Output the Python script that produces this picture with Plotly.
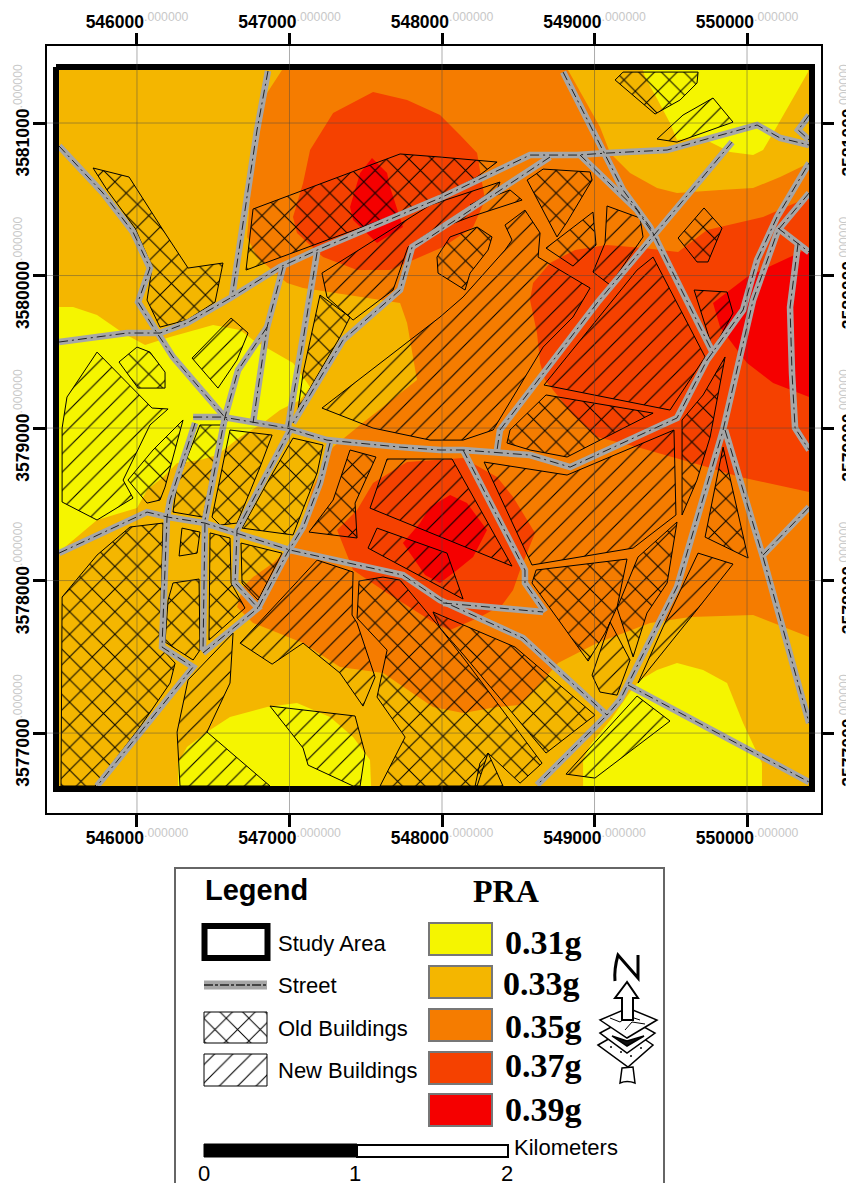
import plotly.graph_objects as go

W, H = 846, 1183
E0, N0 = 545000, 3576000   # all digitised vertices below are metres east / north of this origin

X_TICKS = [546000, 547000, 548000, 549000, 550000]
Y_TICKS = [3577000, 3578000, 3579000, 3580000, 3581000]
X_RANGE = [545410, 550485]
Y_RANGE = [3576476, 3581505]

STUDY_AREA = [(469,5367),(5426,5367),(5426,633),(469,633),(469,5367)]
STUDY_INNER = [(489,5348),(5407,5348),(5407,653),(489,653)]

# ---- PRA contour bands
YELLOW_WEST = [(489,3793),(581,3793),(738,3741),(909,3623),(1053,3544),(1217,3597),(1499,3675),(1676,3643),(1761,3577),(2023,3426),(2135,3269),(2069,3184),(1938,3118),(1826,3033),(1676,2941),(1525,2823),(1413,2790),(1263,2771),(1171,2679),(1066,2594),(1000,2475),(738,2397),(489,2187)]
YELLOW_SOUTH = [(1269,653),(1269,803),(1328,908),(1459,1007),(1610,1105),(1853,1171),(2049,1197),(2266,1105),(2417,974),(2528,823),(2535,653)]
YELLOW_SE = [(3925,653),(3925,823),(3971,921),(4115,1099),(4233,1269),(4299,1348),(4410,1413),(4541,1459),(4712,1413),(4869,1328),(4974,1066),(5098,803),(5098,653)]
ORANGE = [(1951,5348),(1853,5197),(1774,4954),(1722,4253),(1787,4121),(1984,3951),(2089,3918),(2725,3820),(2771,3689),(2836,3315),(2463,3020),(2286,2875),(2154,2613),(2049,2266),(1892,2115),(1761,2023),(1695,1958),(1656,1826),(1761,1722),(2089,1590),(2331,1433),(2613,1394),(2941,1171),(3138,1131),(3361,1171),(3512,1184),(3623,1302),(3761,1459),(4017,1590),(4364,1722),(4626,1761),(5040,1774),(5407,1630),(5407,5348)]
AMBER_NE = [(3826,5348),(4036,4974),(4102,4803),(4233,4672),(4410,4574),(4541,4541),(4823,4561),(5040,4574),(5217,4646),(5407,4738),(5407,5348)]
YELLOW_NE = [(4318,5348),(4331,5302),(4397,5184),(4495,5000),(4541,4889),(4692,4908),(4889,4810),(5040,4790),(5105,4823),(5171,4934),(5400,5334),(5400,5348)]
REDORANGE_N = [(2548,5203),(2771,5151),(2987,5052),(3118,4921),(3230,4803),(3282,4495),(3204,4318),(3007,4187),(2659,4036),(2443,4036),(2220,4121),(2049,4279),(2023,4384),(2089,4607),(2135,4823),(2286,5066)]
REDORANGE_E = [(4082,4200),(4318,4180),(4548,4154),(4738,4298),(5105,4384),(5407,4515),(5407,2580),(4954,2679),(4738,2744),(4279,2875),(4017,2941),(3859,3085),(3676,3315),(3643,3426),(3623,3623),(3577,3839),(3597,3951),(3708,4082),(3872,4167)]
REDORANGE_C = [(2312,2331),(2443,2462),(2548,2640),(2771,2777),(3138,2803),(3361,2679),(3466,2548),(3558,2397),(3610,2312),(3512,2069),(3466,1938),(3394,1839),(3249,1761),(3053,1676),(2941,1728),(2640,1918),(2417,2069)]
RED_N = [(2541,4770),(2640,4672),(2659,4580),(2744,4318),(2574,4213),(2417,4364),(2397,4449),(2463,4672)]
RED_E = [(5407,4180),(5282,4121),(5000,3990),(4777,3820),(4823,3662),(4935,3512),(5000,3426),(5171,3295),(5407,3203)]
RED_C = [(2922,2482),(3053,2561),(3164,2508),(3295,2331),(3204,2154),(3099,2069),(2987,1984),(2889,2036),(2744,2246),(2856,2377)]

BAND_COLORS = ["#F5F500", "#F4B600", "#F57C00", "#F54100", "#F50000"]
BANDS = [
    (YELLOW_WEST, 0), (YELLOW_SOUTH, 0), (YELLOW_SE, 0), (ORANGE, 2), (AMBER_NE, 1), (YELLOW_NE, 0),
    (REDORANGE_N, 3), (REDORANGE_E, 3), (REDORANGE_C, 3), (RED_N, 4), (RED_E, 4), (RED_C, 4),
]

# ---- old buildings
OLD_1 = [(712,4705),(948,4646),(1171,4298),(1335,4049),(1564,4082),(1512,3826),(1328,3708),(1151,3662),(1066,3839),(1099,4056),(987,4311),(804,4561)]
OLD_2 = [(1761,4436),(2725,4797),(2987,4777),(3361,4744),(3230,4646),(2922,4482),(1715,4036)]
OLD_3 = [(2200,3872),(2397,3728),(2331,3597),(2154,3295),(2056,3118),(2089,3361)]
OLD_4 = [(882,3433),(1000,3531),(1085,3498),(1184,3367),(1184,3262),(1007,3262)]
OLD_5 = [(1302,3053),(1184,2613),(1151,2528),(1066,2508),(941,2659),(1105,2856)]
OLD_6 = [(1413,3020),(1558,3020),(1433,2416),(1236,2449),(1263,2640)]
OLD_7 = [(1610,2987),(1886,2954),(1807,2744),(1656,2377),(1545,2364),(1492,2416)]
OLD_8 = [(2023,2934),(2220,2889),(2181,2705),(2023,2299),(1689,2344),(1853,2640)]
OLD_9 = [(2397,2856),(2567,2810),(2430,2508),(2443,2279),(2128,2318),(2286,2528)]
OLD_10 = [(2967,4121),(3053,4253),(3230,4318),(3328,4253),(3302,4167),(3184,4016),(3151,3905),(2974,4016)]
OLD_11 = [(3558,4626),(3663,4698),(3971,4679),(3984,4626),(3820,4351),(3754,4253)]
OLD_12 = [(3682,4180),(3990,4416),(4010,4200),(3859,4062)]
OLD_13 = [(4548,4246),(4718,4443),(4836,4311),(4744,4089),(4672,4089)]
OLD_14 = [(4135,5282),(4187,5334),(4679,5334),(4672,5262),(4561,5151),(4397,5059)]
OLD_15 = [(3426,2902),(3446,2987),(3682,3217),(4384,3098),(4036,2921),(3820,2810),(3577,2856)]
OLD_16 = [(4856,3466),(4758,2941),(4672,2659),(4574,2430),(4574,3053),(4712,3217)]
OLD_17 = [(3617,2069),(4213,2141),(4148,1826),(4069,1656),(3958,1472),(3590,1984)]
OLD_18 = [(4541,2384),(4476,1984),(4344,1787),(4253,1499),(4148,1820),(4285,2154)]
OLD_19 = [(4843,2875),(5007,2148),(4725,2285)]
OLD_20 = [(2456,1997),(2613,2023),(2725,2003),(2987,1689),(3151,1479),(3656,803),(3512,672),(3302,869),(3230,653),(2594,653),(2758,974),(2574,1236),(2640,1544),(2443,1754)]
OLD_21 = [(2941,1794),(3479,1564),(4003,1118),(3682,869),(3131,1525),(2987,1689)]
OLD_22 = [(1171,2377),(954,2351),(738,2167),(509,1892),(502,653),(725,653),(1020,1040),(1217,1328),(1250,1459),(1151,1564)]
OLD_23 = [(1295,2344),(1413,2318),(1394,2180),(1276,2161)]
OLD_24 = [(1236,1984),(1407,2010),(1413,1544),(1368,1479),(1184,1597),(1204,1872)]
OLD_25 = [(1479,2312),(1610,2279),(1617,1984),(1708,1820),(1472,1610)]
OLD_26 = [(1682,2246),(1951,2180),(1794,1872),(1689,1984)]
OLD_BUILDINGS = [OLD_1,OLD_2,OLD_3,OLD_4,OLD_5,OLD_6,OLD_7,OLD_8,OLD_9,OLD_10,OLD_11,OLD_12,OLD_13,OLD_14,OLD_15,OLD_16,OLD_17,OLD_18,OLD_19,OLD_20,OLD_21,OLD_22,OLD_23,OLD_24,OLD_25,OLD_26]

# ---- new buildings
NEW_1 = [(2213,4016),(2922,4462),(3380,4613),(3361,4561),(3184,4462),(3446,4561),(3525,4495),(3184,4384),(2922,4285),(2777,4187),(2679,3905),(2417,3708),(2246,3859)]
NEW_2 = [(1617,3721),(1728,3623),(1656,3446),(1531,3262),(1361,3459)]
NEW_3 = [(738,3498),(1099,3131),(1204,3125),(1085,3020),(909,2659),(974,2541),(738,2397),(509,2515),(509,3000),(541,3203)]
NEW_4 = [(2213,3131),(2987,3728),(3138,3859),(3413,4167),(3459,4233),(3413,4331),(3544,4429),(3643,4279),(3630,4121),(3971,3918),(3859,3728),(3663,3531),(3335,2987),(3138,2921),(2922,2921),(2548,3000)]
NEW_5 = [(4082,4456),(4299,4377),(4318,4253),(4102,3938),(3990,4023),(4069,4213)]
NEW_6 = [(4410,4895),(4580,5052),(4777,5164),(4908,5006),(4541,4875)]
NEW_7 = [(4653,3905),(4869,3892),(4908,3754),(4777,3512)]
NEW_8 = [(4384,4121),(4725,3466),(4495,3118),(3669,3282),(4279,4036)]
NEW_9 = [(3276,2777),(3820,2692),(4521,2987),(4534,2430),(4253,2213),(3590,2102)]
NEW_10 = [(4102,1728),(4233,1479),(4148,1249),(4036,1269),(3984,1380)]
NEW_11 = [(4679,2180),(4908,2108),(4659,1793),(4285,1328),(4449,1695)]
NEW_12 = [(4279,1243),(4495,1079),(4003,705),(3813,731)]
NEW_13 = [(2640,2797),(3066,2797),(3459,2095),(2528,2475)]
NEW_14 = [(2574,2344),(3033,2180),(3138,1879),(2515,2213)]
NEW_15 = [(2417,2056),(2181,2134),(1676,1590),(1886,1452),(2089,1590),(2331,1394),(2482,1177),(2561,1367),(2443,1722),(2410,1774)]
NEW_16 = [(3302,869),(3400,653),(3217,653),(3249,803)]
NEW_17 = [(1630,1656),(1610,1328),(1459,1007),(1872,653),(1282,653),(1263,1007),(1335,1348)]
NEW_18 = [(1872,1177),(2430,1112),(2495,869),(2463,653),(2417,653),(2122,790),(2089,902),(2004,1007)]
NEW_BUILDINGS = [NEW_1,NEW_2,NEW_3,NEW_4,NEW_5,NEW_6,NEW_7,NEW_8,NEW_9,NEW_10,NEW_11,NEW_12,NEW_13,NEW_14,NEW_15,NEW_16,NEW_17,NEW_18]

# ---- streets
STREETS = [
    [(489,4849),(777,4541),(974,4285),(1085,4049),(1007,3826),(1131,3623),(1236,3466),(1564,3085),(1597,3046)],
    [(1368,3072),(1564,3072),(1984,3000),(2246,2921),(2725,2875),(2987,2856),(3138,2856),(3335,2843),(3577,2823),(3840,2744),(4541,3066),(4738,3446)],
    [(489,3564),(935,3623),(1151,3623),(1328,3689),(1623,3859),(1938,4056),(2181,4167),(2987,4508),(3577,4790),(3885,4790),(4082,4803),(4476,4823),(5066,4987),(5217,4902),(5407,4856)],
    [(1859,5341),(1787,4954),(1623,3859)],
    [(1958,4056),(1853,3662),(1761,3033)],
    [(1853,3662),(1663,3380),(1577,3072),(1446,2397),(1433,1544)],
    [(1381,3033),(1217,2528),(1197,2416),(1164,1564),(1368,1433),(738,653)],
    [(1433,1525),(1794,1820),(1643,1984),(1656,2331),(2004,2987)],
    [(2266,2902),(2200,2640),(2089,2351),(1984,2180),(1794,1820)],
    [(2181,4154),(2089,3577),(1990,3006)],
    [(3708,4777),(2922,4253),(2804,4187),(2725,3905),(2351,3577),(2023,3033)],
    [(489,2180),(1066,2449),(1204,2416),(1446,2377),(1630,2318),(2004,2200),(2744,2036),(2987,1872),(3531,1623),(4082,1118)],
    [(3007,1853),(3663,1794)],
    [(3138,2856),(3544,2069),(3544,1984),(3676,1794)],
    [(3794,5334),(4187,4561),(4364,4318),(4777,3492)],
    [(3905,4790),(4279,4429),(4410,4233)],
    [(4902,4875),(4384,4253),(4017,3820),(3380,2987),(3361,2856)],
    [(4738,3446),(4974,3774),(5066,4102),(5197,4384),(5407,4738)],
    [(5407,4541),(5203,4298),(5040,3839),(4843,2987),(4541,1958),(4220,1328),(4167,1217),(4082,1118),(3623,659)],
    [(4856,2987),(5105,2154),(5407,1066)],
    [(5105,2167),(5302,2377),(5407,2482)],
    [(4220,1315),(5407,679)],
    [(5203,4311),(5335,4213),(5407,4154)],
    [(5335,4213),(5282,3793),(5295,3361),(5315,3000),(5407,2856)],
    [(5407,5052),(5335,4954),(5407,4889)],
]

# ---- legend contents
LEGEND_ITEMS = ["Study Area", "Street", "Old Buildings", "New Buildings"]
PRA_CLASSES = ["0.31g", "0.33g", "0.35g", "0.37g", "0.39g"]
SCALE_LABELS = ["0", "1", "2"]

SANS = "Liberation Sans, Arial, sans-serif"
SERIF = "Liberation Serif, Times New Roman, serif"
OLD_HATCH = dict(shape="x", size=16, solidity=0.12, fgcolor="black", fgopacity=1, bgcolor="rgba(0,0,0,0)")
NEW_HATCH = dict(shape="/", size=13, solidity=0.085, fgcolor="black", fgopacity=1, bgcolor="rgba(0,0,0,0)")


def ex(points):
    return [E0 + p[0] for p in points]


def ny(points):
    return [N0 + p[1] for p in points]


fig = go.Figure()

fig.add_trace(go.Scatter(x=ex(STUDY_INNER), y=ny(STUDY_INNER), mode="none", fill="toself",
                         fillcolor=BAND_COLORS[1], hoverinfo="skip"))
for poly, idx in BANDS:
    fig.add_trace(go.Scatter(x=ex(poly), y=ny(poly), mode="none", fill="toself",
                             fillcolor=BAND_COLORS[idx], hoverinfo="skip"))

for group, hatch in ((OLD_BUILDINGS, OLD_HATCH), (NEW_BUILDINGS, NEW_HATCH)):
    for poly in group:
        closed = poly + [poly[0]]
        fig.add_trace(go.Scatter(
            x=ex(closed), y=ny(closed), mode="lines", line=dict(color="black", width=1),
            fill="toself", fillcolor="rgba(0,0,0,0)", fillpattern=hatch, hoverinfo="skip"))

for s in STREETS:
    fig.add_trace(go.Scatter(x=ex(s), y=ny(s), mode="lines", hoverinfo="skip",
                             line=dict(color="#A6A6A6", width=6.5)))
for s in STREETS:
    fig.add_trace(go.Scatter(x=ex(s), y=ny(s), mode="lines", hoverinfo="skip",
                             line=dict(color="#222222", width=1, dash="9px,4px,2px,4px")))

fig.add_trace(go.Scatter(x=ex(STUDY_AREA), y=ny(STUDY_AREA), mode="lines", hoverinfo="skip",
                         line=dict(color="black", width=6)))

# overlay axes for the top / right labels
fig.add_trace(go.Scatter(x=[X_TICKS[0]], y=[Y_TICKS[0]], xaxis="x2", yaxis="y2", mode="markers",
                         marker=dict(opacity=0), hoverinfo="skip"))


def tick_text(v):
    return f'<b>{v}</b><sup><span style="color:#c8c8c8">.000000</span></sup>'


def axis(vals, rng, **kw):
    base = dict(range=rng, tickmode="array", tickvals=vals, ticktext=[tick_text(v) for v in vals],
                ticks="outside", ticklen=12, tickwidth=3, tickcolor="black",
                showgrid=False, zeroline=False,
                tickfont=dict(family=SANS, size=17.5, color="black"), automargin=False)
    base.update(kw)
    return base


PLOT_L, PLOT_R, PLOT_T, PLOT_B = 47, 821, 46, 813
xdom = [PLOT_L / W, PLOT_R / W]
ydom = [(H - PLOT_B) / H, (H - PLOT_T) / H]

shapes = []
for v in X_TICKS:
    shapes.append(dict(type="line", xref="x", yref="y", x0=v, x1=v, y0=Y_RANGE[0], y1=Y_RANGE[1],
                       line=dict(color="rgba(70,70,70,0.45)", width=1), layer="above"))
for v in Y_TICKS:
    shapes.append(dict(type="line", xref="x", yref="y", y0=v, y1=v, x0=X_RANGE[0], x1=X_RANGE[1],
                       line=dict(color="rgba(70,70,70,0.45)", width=1), layer="above"))


def rect(x0, y0, x1, y1, fill="white", color="black", width=1, layer="above"):
    shapes.append(dict(type="rect", xref="x3", yref="y3", x0=x0, x1=x1, y0=y0, y1=y1,
                       fillcolor=fill, line=dict(color=color, width=width), layer=layer))


def path(d, fill="white", color="black", width=1.5):
    shapes.append(dict(type="path", xref="x3", yref="y3", path=d, fillcolor=fill,
                       line=dict(color=color, width=width), layer="above"))


def line(x0, y0, x1, y1, color, width, dash="solid"):
    shapes.append(dict(type="line", xref="x3", yref="y3", x0=x0, x1=x1, y0=y0, y1=y1,
                       line=dict(color=color, width=width, dash=dash), layer="above"))


rect(175, 868, 664, 1200, color="#666666", width=2, layer="below")
rect(204.5, 926, 267.5, 958, fill="white", width=6)
line(204, 985, 267, 985, "#A6A6A6", 9)
line(204, 985, 267, 985, "#444444", 2, "9px,2px,3px,2px")

# legend hatch swatches
for (x0, y0, x1, y1), hatch in (((204, 1012, 267, 1043), OLD_HATCH), ((204, 1054, 267, 1086), NEW_HATCH)):
    fig.add_trace(go.Scatter(x=[x0, x1, x1, x0, x0], y=[y0, y0, y1, y1, y0], xaxis="x3", yaxis="y3",
                             mode="lines", line=dict(color="black", width=1), fill="toself",
                             fillcolor="rgba(0,0,0,0)", fillpattern=hatch, hoverinfo="skip"))

ANN_Y_LABELS = [943, 985, 1028, 1070]
annotations = []


def text(x, y, s, size, family=SANS, bold=False, anchor="left"):
    annotations.append(dict(xref="x3", yref="y3", x=x, y=y, text=f"<b>{s}</b>" if bold else s,
                            showarrow=False, xanchor=anchor, yanchor="middle",
                            font=dict(family=family, size=size, color="black"), borderpad=0))


text(204, 890, "Legend", 29, bold=True)
text(472, 891, "PRA", 32, family=SERIF, bold=True)
for lab, y in zip(LEGEND_ITEMS, ANN_Y_LABELS):
    text(277, y, lab, 22)

SWATCH_TOPS = [923, 966, 1009, 1052, 1094]
PRA_XS = [504, 502, 504, 504, 504]
PRA_YS = [942, 983, 1026, 1065, 1109]
for top, col, lab, lx, ly in zip(SWATCH_TOPS, BAND_COLORS, PRA_CLASSES, PRA_XS, PRA_YS):
    rect(429, top, 492, top + 32, fill=col, color="#777777", width=2)
    text(lx, ly, lab, 34, family=SERIF, bold=True)

rect(204, 1144, 357, 1157, fill="black", width=1)
rect(357, 1145, 508, 1157, fill="white", width=2)
text(513, 1147, "Kilometers", 22)
for lab, x in zip(SCALE_LABELS, (204, 355, 507)):
    text(x, 1173, lab, 22, anchor="center")

# north arrow
path("M 615 981 C 614 970 616 962 618 955 L 638 978 L 638 955", fill="rgba(0,0,0,0)", width=3)
path("M 622 1068 L 620 1083 Q 627 1080 635 1083 L 633 1067 Z")
path("M 598 1045 L 628 1028 L 653 1045 L 628 1067 Z")
path("M 610 1047 L 612 1047 M 620 1052 L 622 1052 M 630 1056 L 632 1056 M 640 1048 L 642 1048", fill="rgba(0,0,0,0)", width=1.5)
path("M 600 1033 L 628 1018 L 655 1033 L 627 1053 Z")
path("M 612 1036 L 627 1046 L 644 1036 L 627 1041 Z", fill="#111111")
path("M 600 1020 L 628 1008 L 657 1020 L 627 1038 Z")
path("M 610 1018 L 620 1022 L 628 1016 L 640 1020 M 625 1030 L 632 1022 L 645 1024", fill="rgba(0,0,0,0)", width=1)
path("M 627 982 L 615 998 L 622 998 L 622 1020 L 633 1020 L 633 998 L 638 998 Z", width=2)

fig.update_layout(
    width=W, height=H, margin=dict(l=0, r=0, t=0, b=0, pad=0), autosize=False,
    paper_bgcolor="white", plot_bgcolor="rgba(0,0,0,0)", showlegend=False,
    xaxis=axis(X_TICKS, X_RANGE, domain=xdom, anchor="y", side="bottom", ticklabelstandoff=-4,
               showline=True, linecolor="black", linewidth=2, mirror=True),
    yaxis=axis(Y_TICKS, Y_RANGE, domain=ydom, anchor="x", side="left", tickangle=-90, ticklabelstandoff=-3,
               showline=True, linecolor="black", linewidth=2, mirror=True),
    xaxis2=axis(X_TICKS, X_RANGE, overlaying="x", anchor="y2", side="top", ticklabelstandoff=-2),
    yaxis2=axis(Y_TICKS, Y_RANGE, overlaying="y", anchor="x2", side="right", tickangle=-90),
    xaxis3=dict(domain=[0, 1], range=[0, W], visible=False, anchor="y3", fixedrange=True),
    yaxis3=dict(domain=[0, 1], range=[H, 0], visible=False, anchor="x3", fixedrange=True),
    shapes=shapes, annotations=annotations,
)

fig.write_html("out.html", config=dict(displayModeBar=False),
               post_script="document.body.style.margin='0';")
